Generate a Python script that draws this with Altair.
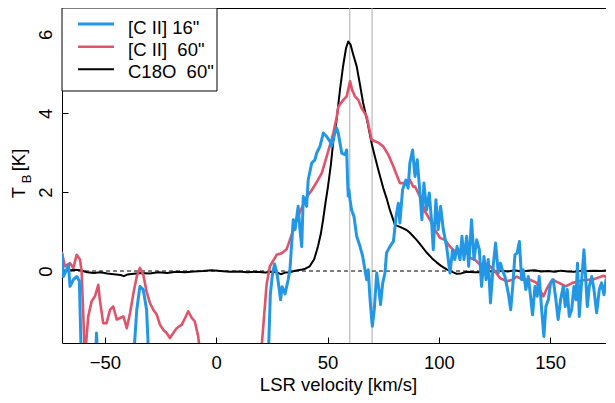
import altair as alt
import pandas as pd

# ---------------- data ----------------
series_names = ["[C II] 16\"", "[C II]\u00a0 60\"", "C18O\u00a0 60\""]
series_colors = ["#2297E6", "#DF536B", "#000000"]
series_widths = [3, 2.6, 2]

blue_v = [-69.3, -68.7, -67.2, -66.4, -65.7, -64.2, -62.7, -61.5, -60.5, -54.5, -53.8, -53.1,
          -37.5, -35.7, -34.3, -32.8, -31.3, -30.1, 23.2, 24.3, 25.2, 26.2, 27.4, 28.4, 28.9,
          29.6, 30.9, 32.3, 33.1, 34.6, 35.4, 36.8, 37.6, 38.4, 39.1, 40.6, 41.3, 42.9, 44.3,
          45.1, 45.8, 46.6, 48.1, 49.6, 51.1, 51.8, 53.3, 54.1, 54.8, 56.4, 57.8, 58.6, 59.0,
          59.3, 59.6, 60.1, 60.8, 61.9, 63.1, 64.6, 65.8, 66.8, 67.6, 68.3, 69.0, 70.1, 71.0,
          72.1, 73.1, 73.8, 74.8, 75.8, 76.5, 78.0, 79.6, 80.8, 81.8, 82.5, 83.7, 85.2, 86.2,
          87.0, 88.2, 89.3, 90.3, 91.5, 92.4, 93.3, 94.5, 95.7, 96.8, 97.5, 98.7, 99.7, 100.8,
          102.0, 103.5, 105.0, 106.2, 107.2, 108.2, 109.5, 110.4, 111.3, 112.5, 113.4, 114.7,
          115.8, 117.0, 118.2, 119.2, 120.3, 121.2, 122.2, 123.2, 124.4, 125.5, 126.7, 127.7,
          128.5, 129.7, 131.2, 132.3, 133.2, 134.2, 135.2, 136.2, 137.2, 137.9, 139.1, 140.2,
          141.2, 142.1, 143.2, 144.2, 145.1, 146.2, 147.2, 148.1, 149.2, 150.2, 151.4, 152.6,
          153.6, 154.7, 155.9, 156.8, 157.7, 158.6, 159.7, 160.7, 161.6, 162.3, 163.1, 164.1,
          165.2, 166.1, 166.7, 167.6, 168.7, 169.7, 170.9, 172.1, 173.1, 174.2, 175.1, 176.1,
          177.2, 178.4, 179.5]
blue_t = [0.41, -0.14, 0.03, 0.16, -0.39, -0.22, -0.14, -0.25, -2.5, -2.5, -1.57, -2.5,
          -2.5, -0.98, -0.39, -0.47, -0.98, -2.5, -2.5, -0.6, -0.1, 0.18, -0.1, -0.5, -0.73,
          -0.4, -0.58, -0.22, 0.03, 1.3, 1.05, 1.64, 1.05, 0.62, 1.89, 1.64, 2.31, 2.74, 2.82,
          2.99, 3.07, 3.16, 3.5, 3.41, 3.29, 3.16, 3.5, 3.62, 3.5, 2.99, 2.95, 3.07, 2.3,
          1.9, 2.06, 1.81, 1.55, 1.38, 0.88, 0.62, 0.37, 0.03, -0.22, 0.03, -0.64, -1.4, -0.98,
          -0.05, -0.47, -0.85, -0.3, -0.05, 0.46, 0.62, 0.75, 1.38, 1.72, 1.22, 2.06, 2.31, 2.1,
          2.74, 3.07, 2.4, 2.82, 1.98, 1.3, 2.23, 1.55, 1.98, 1.22, 0.54, 1.81, 1.05, 1.64,
          1.05, 0.62, -0.05, 0.54, 0.29, 0.62, 0.29, 0.88, 0.29, 0.88, 0.12, 1.3,
          0.29, 0.79, 0.54, -0.39, 0.37, -0.22, 0.29, -0.81, 0.12, 0.71, -0.05, 0.2,
          0.03, -0.14, -0.56, -0.98, -0.39, 0.41, 0.46, 0.75, -0.22, 0.03, -0.47, -0.14,
          -0.64, -1.11, -0.39, -0.64, -0.14, -0.98, -1.66, -0.9, -0.73, -0.3, -0.22, -0.73,
          -1.23, -0.73, -0.39, -0.9, -0.47, -1.15, -0.98, -0.39, -0.73, 0.2, -1.15, -0.3,
          0.54, -0.3, -0.9, -0.39, -0.14, -0.47, -1.06, -0.47, -0.3, -0.6, -0.22, -0.47,
          -0.73, -0.05, -0.3]

pink_v = [-69.3, -68.0, -65.7, -64.2, -62.7, -61.2, -60.5, -59.0, -57.5, -56.0, -54.5, -53.0,
          -52.3, -50.8, -49.3, -47.7, -46.3, -44.7, -43.2, -41.7, -40.2, -38.7, -37.2, -35.7,
          -34.3, -32.8, -31.3, -29.8, -28.3, -26.7, -25.3, -23.8, -22.3, -20.8, -19.3, -17.8,
          -15.5, -14.0, -12.6, -11.0, -9.6, -8.1, -7.0, 20.0, 22.6, 24.1, 25.5, 27.1, 29.4,
          31.6, 33.9, 36.1, 38.4, 40.6, 42.9, 45.1, 47.4, 49.6, 51.8, 52.6, 54.1, 54.9, 57.1,
          58.6, 60.1, 61.0, 62.3, 63.8, 65.3, 67.6, 69.8, 71.3, 73.0, 75.0, 77.3, 79.6, 81.0,
          82.5, 84.0, 85.5, 87.0, 88.5, 89.3, 91.5, 93.8, 96.0, 98.2, 100.5, 102.7, 105.0,
          107.2, 109.5, 111.7, 114.0, 116.2, 118.5, 120.7, 123.0, 125.2, 127.5, 130.5, 133.2,
          135.0, 138.0, 141.0, 144.0, 145.5, 147.0, 148.5, 151.0, 154.0, 157.0, 160.0, 163.0,
          166.0, 169.0, 171.0, 174.0, 176.0, 178.0, 179.5]
pink_t = [0.46, 0.12, 0.2, 0.08, 0.41, 0.29, 0.0, -2.2, -1.15, -0.77, -0.64, -0.35,
          -0.73, -1.32, -1.32, -0.98, -0.9, -1.23, -1.19, -1.15, -1.45, -1.06, -0.56, -0.14,
          0.08, -0.09, -0.52, -0.81, -0.98, -1.11, -1.36, -1.49, -1.57, -1.7, -1.57, -1.45,
          -1.36, -1.19, -1.02, -1.19, -1.28, -1.66, -2.2, -2.2, -0.35, 0.12, 0.25, 0.41, 0.45,
          0.55, 0.92, 1.3, 1.6, 1.87, 2.05, 2.25, 2.48, 2.9, 3.33, 3.5, 3.9, 4.17, 4.34,
          4.43, 4.81, 4.6, 4.43, 4.34, 4.13, 3.92, 3.33, 3.29, 3.25, 3.16, 2.95, 2.65, 2.44,
          2.23, 2.23, 2.23, 2.31, 2.14, 2.14, 1.89, 1.51, 1.3, 1.05, 0.84, 0.79, 0.62,
          0.5, 0.54, 0.54, 0.33, 0.29, 0.16, 0.2, 0.12, 0.0, -0.18, -0.26, -0.22,
          -0.14, -0.22, -0.22, -0.3, -0.5, -0.64, -0.45, -0.22, -0.3, -0.39, -0.3, -0.26,
          -0.22, -0.22, -0.18, -0.12, -0.18, -0.26, -0.2]

black_v = [-69.3, -67, -64, -61, -58, -55, -52, -49, -46, -43, -41.5, -40, -37, -34, -30, -26,
           -22, -18, -14, -10, -6, -2, 2, 6, 10, 14, 18, 22, 25, 27, 29, 31, 33, 35, 38, 40,
           42, 44, 45.7, 47, 48, 49, 50.2, 51.5, 52.6, 54, 55.6, 57, 58.3, 59.3, 60.3, 61.5,
           63.1, 64.5, 66, 68, 69.8, 71.3, 72.8, 75, 76.5, 78, 80.3, 82.5, 84, 85.5, 87, 90,
           92, 94.5, 97, 99, 101, 103.5, 106, 108, 110, 112.5, 116, 119, 122, 125, 128, 131,
           134, 137, 140, 143, 146, 149, 152, 155, 158, 161, 164, 167, 170, 173, 176, 179.5]
black_t = [0.02, 0.0, 0.03, 0.02, -0.03, -0.05, -0.03, -0.06, -0.08, -0.1, -0.13, -0.09, -0.07,
           -0.05, -0.06, -0.03, -0.05, -0.02, -0.03, -0.01, 0.0, 0.02, 0.0, -0.02, -0.01, -0.03,
           -0.02, -0.04, -0.02, -0.03, -0.08, -0.04, -0.03, 0.0, 0.03, 0.06, 0.12, 0.3, 0.62,
           0.95, 1.3, 1.7, 2.14, 2.7, 3.3, 3.8, 4.6, 5.2, 5.65, 5.82, 5.75, 5.5, 5.19, 4.75,
           4.26, 3.75, 3.24, 2.9, 2.57, 2.11, 1.85, 1.55, 1.17, 1.12, 1.08, 1.04, 0.97, 0.79,
           0.65, 0.47, 0.32, 0.22, 0.13, 0.04, -0.02, -0.07, -0.06, -0.02, -0.03, -0.03, 0.0,
           -0.02, 0.01, -0.01, 0.02, -0.01, 0.01, 0.02, -0.01, 0.0, -0.02, 0.01, -0.01, -0.02,
           0.01, 0.0, 0.01, 0.0, 0.02, 0.01]

vlines = [60, 70]
hline = [0]
x_ticks = [-50, 0, 50, 100, 150]
y_ticks = [0, 2, 4, 6]
x_domain = [-69.3, 178.7]
y_domain = [-1.825, 6.67]
x_title = "LSR velocity [km/s]"

FONT = "Liberation Sans"
FS = 18.5

rows = []
for name, vs, ts in [(series_names[0], blue_v, blue_t),
                     (series_names[1], pink_v, pink_t),
                     (series_names[2], black_v, black_t)]:
    for v, t in zip(vs, ts):
        rows.append({"series": name, "v": v, "T": t})
df = pd.DataFrame(rows)

xs = alt.Scale(domain=x_domain, nice=False, zero=False)
ys = alt.Scale(domain=y_domain, nice=False, zero=False)

x_axis = alt.Axis(values=x_ticks, title=x_title, domain=False, offset=-6, tickSize=6,
                  tickColor="black", tickWidth=1, labelFont=FONT, labelFontSize=FS,
                  labelColor="black", labelPadding=10.5, titleFont=FONT, titleFontSize=FS,
                  titleFontWeight="normal", titleColor="black", titlePadding=3, grid=False)
y_axis = alt.Axis(values=y_ticks, title=None, domain=False, offset=-6, tickSize=6,
                  tickColor="black", tickWidth=1, labelFont=FONT, labelFontSize=FS,
                  labelColor="black", labelPadding=10.3, labelAngle=270, labelAlign="center",
                  labelBaseline="alphabetic", grid=False)

color = alt.Color("series:N", scale=alt.Scale(domain=series_names, range=series_colors),
                  legend=None)

base = alt.Chart(df)

gray = alt.Chart(pd.DataFrame({"v": vlines})).mark_rule(color="#aaaaaa", strokeWidth=1).encode(
    x=alt.X("v:Q", scale=xs, axis=x_axis))
zero = alt.Chart(pd.DataFrame({"T": hline})).mark_rule(color="black", strokeWidth=1,
                                                        strokeDash=[4, 3]).encode(
    y=alt.Y("T:Q", scale=ys, axis=y_axis))

def line(name, w):
    return base.transform_filter(alt.datum.series == name).mark_line(
        strokeWidth=w, clip=True, strokeJoin="round", strokeCap="round").encode(
        x=alt.X("v:Q", scale=xs, axis=x_axis),
        y=alt.Y("T:Q", scale=ys, axis=y_axis),
        color=color,
        order="v:Q")

l_black = line(series_names[2], series_widths[2])
l_pink = line(series_names[1], series_widths[1])
l_blue = line(series_names[0], series_widths[0])

# y axis title  T_B [K]  (subscript drawn as a smaller text)
def ytext(txt, x, y, fs):
    return alt.Chart(pd.DataFrame({"lab": [txt]})).mark_text(
        angle=270, align="center", baseline="alphabetic", font=FONT, fontSize=fs,
        color="black").encode(text="lab:N", x=alt.value(x), y=alt.value(y))

ylab = ytext("T", -37.5, 184.5, FS) + ytext("B", -31, 171, 13) + ytext("[K]", -37.5, 152, FS)

# legend box (top-left, R style)
legend_layers = [
    alt.Chart(pd.DataFrame({"k": [0]})).mark_rect(fill="white", stroke="black",
                                                  strokeWidth=1).encode(
        x=alt.value(0), x2=alt.value(155), y=alt.value(0), y2=alt.value(83))
]
legend_line_y = [16, 38.7, 61.3]
legend_text_y = [25.6, 48.3, 69.6]
for i, name in enumerate(series_names):
    ldf = pd.DataFrame({"series": [name]})
    legend_layers.append(
        alt.Chart(ldf).mark_rule(color=series_colors[i], strokeWidth=series_widths[i]).encode(
            x=alt.value(16), x2=alt.value(52), y=alt.value(legend_line_y[i])))
    legend_layers.append(
        alt.Chart(ldf).mark_text(align="left", baseline="alphabetic", font=FONT, fontSize=FS,
                                 color="black").encode(
            text="series:N", x=alt.value(66), y=alt.value(legend_text_y[i])))

chart = alt.layer(gray, zero, l_black, l_pink, l_blue, ylab, *legend_layers).properties(
    width=552, height=335,
    autosize=alt.AutoSizeParams(type="none"),
    padding={"left": 54, "top": 0, "right": -8, "bottom": 52},
).configure_view(stroke="black", strokeWidth=1)

chart.save("out.html", embed_options={"renderer": "svg", "actions": False})
